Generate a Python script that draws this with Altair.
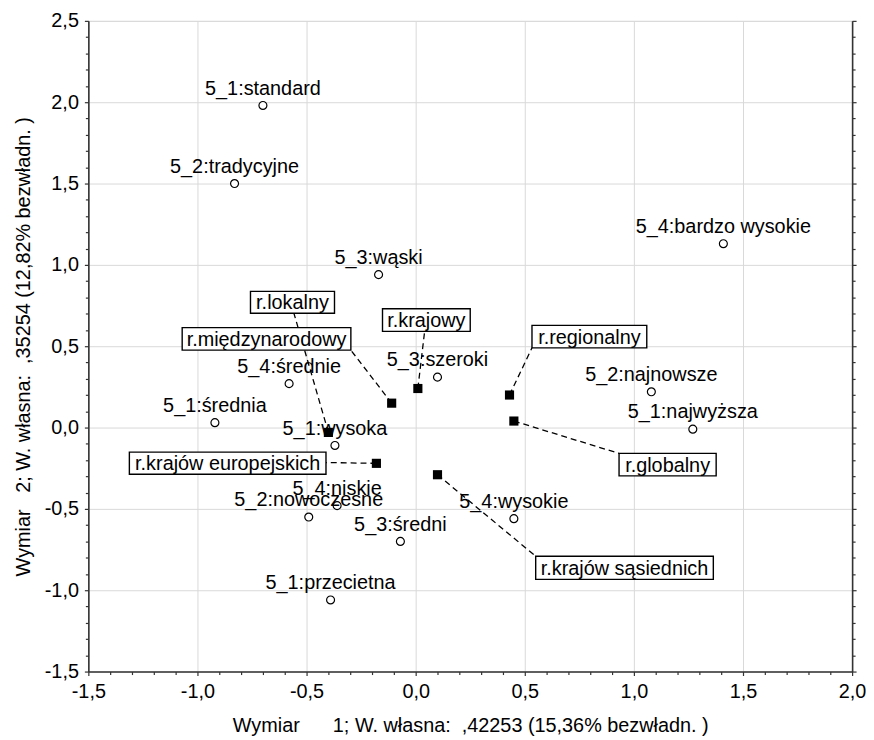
import altair as alt
import pandas as pd

# ---- data ----
pt_labels = ["5_1:standard", "5_2:tradycyjne", "5_3:wąski", "5_4:bardzo wysokie",
             "5_4:średnie", "5_1:średnia", "5_1:wysoka", "5_3:szeroki",
             "5_2:najnowsze", "5_1:najwyższa", "5_4:niskie", "5_2:nowoczesne",
             "5_3:średni", "5_4:wysokie", "5_1:przecietna"]
pt_x = [-0.70, -0.83, -0.17, 1.41, -0.58, -0.92, -0.37, 0.10,
        1.08, 1.27, -0.36, -0.49, -0.07, 0.45, -0.39]
pt_y = [1.98, 1.50, 0.94, 1.13, 0.27, 0.03, -0.11, 0.31,
        0.22, -0.01, -0.48, -0.55, -0.70, -0.56, -1.06]

sq_labels = ["r.lokalny", "r.międzynarodowy", "r.krajowy", "r.krajów europejskich",
             "r.krajów sąsiednich", "r.regionalny", "r.globalny"]
sq_x = [-0.40, -0.11, 0.01, -0.18, 0.10, 0.43, 0.45]
sq_y = [-0.03, 0.15, 0.24, -0.22, -0.29, 0.20, 0.04]

# label boxes (data coordinates): left, right, top, bottom
box_left = [-0.757, -1.070, -0.152, -1.312, 0.550, 0.533, 0.932]
box_right = [-0.372, -0.297, 0.250, -0.411, 1.364, 1.059, 1.377]
box_top = [0.837, 0.614, 0.730, -0.151, -0.791, 0.628, -0.159]
box_bottom = [0.703, 0.476, 0.591, -0.287, -0.933, 0.490, -0.297]
# where each dashed leader meets its box
lead_x = [-0.558, -0.297, 0.041, -0.411, 0.550, 0.533, 0.932]
lead_y = [0.703, 0.476, 0.591, -0.215, -0.791, 0.490, -0.159]

x_title = "Wymiar\u00a0\u00a0\u00a0\u00a0\u00a0\u00a01; W. własna:\u00a0\u00a0,42253 (15,36% bezwładn. )"
y_title = "Wymiar\u00a0\u00a0\u00a02; W. własna:\u00a0\u00a0,35254 (12,82% bezwładn. )"

x_ticks = [round(-1.5 + 0.1 * i, 1) for i in range(36)]
y_ticks = [round(-1.5 + 0.1 * i, 1) for i in range(41)]

# ---- tables ----
pts = pd.DataFrame({"label": pt_labels, "x": pt_x, "y": pt_y})
sqs = pd.DataFrame({"label": sq_labels, "x": sq_x, "y": sq_y,
                    "bl": box_left, "br": box_right, "bt": box_top, "bb": box_bottom,
                    "lx": lead_x, "ly": lead_y})

FONT = "Liberation Sans"
W, H = 770, 656
major = "abs(datum.value*2 - round(datum.value*2)) < 0.01"
lab_expr = (f"{major} ? ((datum.value < -0.001 ? '-' : '') + "
            "replace(format(abs(datum.value), '.1f'), '.', ',')) : ''")

xscale = alt.Scale(domain=[-1.5, 2.0], nice=False, zero=False)
yscale = alt.Scale(domain=[-1.5, 2.5], nice=False, zero=False)

common_axis = dict(
    labelFlush=False, labelOverlap=False,
    domainColor="#333333", domainWidth=1.6,
    tickColor="#333333", tickWidth=1.2,
    tickSize={"condition": {"test": major, "value": 4}, "value": 3},
    gridColor="#d9d9d9", gridWidth=1,
    gridOpacity={"condition": {"test": major, "value": 1}, "value": 0},
    labelColor="black", titleColor="black",
    labelFont=FONT, titleFont=FONT, labelFontSize=20, titleFontSize=20,
    titleFontWeight="normal",
)

x_axis = alt.Axis(values=x_ticks, labelExpr=lab_expr, title=x_title,
                  labelPadding=6, titlePadding=14, **common_axis)
y_axis = alt.Axis(values=y_ticks, labelExpr=lab_expr, title=y_title,
                  labelPadding=6, titlePadding=11, **common_axis)
y_axis_right = alt.Axis(values=y_ticks, orient="right", labels=False, title=None,
                        grid=False, domainColor="#333333", domainWidth=1.6,
                        tickColor="#333333", tickWidth=1.2,
                        tickSize={"condition": {"test": major, "value": 4}, "value": 3})

# grid + axes layer (invisible points carry the axes)
axes_layer = alt.Chart(pts).mark_point(opacity=0).encode(
    x=alt.X("x:Q", scale=xscale, axis=x_axis),
    y=alt.Y("y:Q", scale=yscale, axis=y_axis),
)

right_layer = alt.Chart(pts).mark_point(opacity=0).encode(
    x=alt.X("x:Q", scale=xscale, axis=None),
    y=alt.Y("y:Q", scale=yscale, axis=y_axis_right),
)

circles = alt.Chart(pts).mark_circle(size=64, color="white", stroke="black",
                                     strokeWidth=1.2, opacity=1).encode(
    x=alt.X("x:Q", scale=xscale, axis=None),
    y=alt.Y("y:Q", scale=yscale, axis=None),
)

pt_text = alt.Chart(pts).mark_text(font=FONT, fontSize=20, align="center",
                                   baseline="alphabetic", dy=-11, color="black").encode(
    x=alt.X("x:Q", scale=xscale, axis=None),
    y=alt.Y("y:Q", scale=yscale, axis=None),
    text="label:N",
)

leaders = alt.Chart(sqs).mark_rule(color="black", strokeWidth=1.3,
                                   strokeDash=[6, 4]).encode(
    x=alt.X("x:Q", scale=xscale, axis=None),
    y=alt.Y("y:Q", scale=yscale, axis=None),
    x2="lx:Q", y2="ly:Q",
)

squares = alt.Chart(sqs).mark_square(size=85, color="black", opacity=1).encode(
    x=alt.X("x:Q", scale=xscale, axis=None),
    y=alt.Y("y:Q", scale=yscale, axis=None),
)

boxes = alt.Chart(sqs).mark_rect(fill="white", stroke="black", strokeWidth=1.4).encode(
    x=alt.X("bl:Q", scale=xscale, axis=None),
    x2="br:Q",
    y=alt.Y("bt:Q", scale=yscale, axis=None),
    y2="bb:Q",
)

box_text = alt.Chart(sqs).transform_calculate(
    cx="(datum.bl + datum.br) / 2", cy="(datum.bt + datum.bb) / 2"
).mark_text(font=FONT, fontSize=20, align="center", baseline="middle",
            color="black", dy=1).encode(
    x=alt.X("cx:Q", scale=xscale, axis=None),
    y=alt.Y("cy:Q", scale=yscale, axis=None),
    text="label:N",
)

chart = alt.layer(
    axes_layer, right_layer, circles, pt_text, leaders, squares, boxes, box_text
).resolve_axis(x="independent", y="independent").properties(
    width=W, height=H, padding={"left": 5, "top": 0, "right": 0, "bottom": 0}
).configure_view(stroke=None).configure(background="white")

chart.save("out.html", embed_options={"renderer": "svg", "actions": False})
